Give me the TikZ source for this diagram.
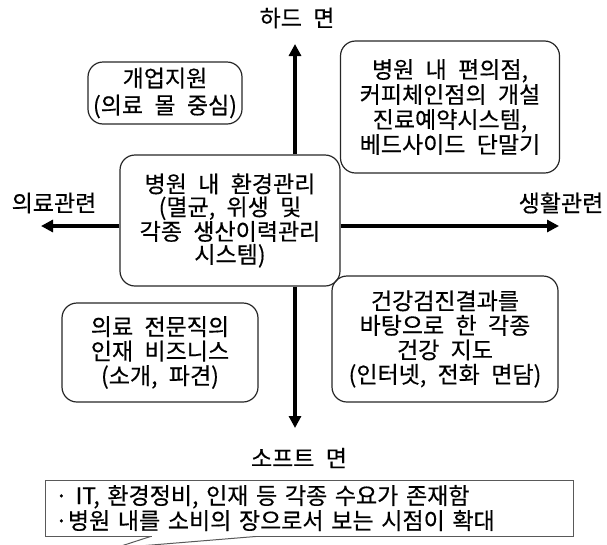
\documentclass[tikz,border=0pt]{standalone}
\usepackage{fontspec}
\setmainfont{Noto Sans CJK KR}[WordSpace=2.2, FakeBold=0.4]
\usetikzlibrary{arrows.meta,calc}
\begin{document}
\begin{tikzpicture}[x=1pt,y=-1pt,
  every node/.style={text=black},
  txt/.style={font=\fontsize{23}{25}\selectfont},
  rbox/.style={txt, draw=black!85, line width=1.2pt, rounded corners=15pt, align=center, inner sep=0pt},
  axis/.style={line width=3.8pt, black, -{Triangle[length=12pt,width=12pt]}},
  lbl/.style={txt, inner sep=0pt},
  note/.style={txt, draw=black!65, line width=1pt, inner xsep=10pt, inner ysep=0pt, align=left, text width=508pt, minimum height=56pt}]
\useasboundingbox (0,0) rectangle (607,544);

% boxes
\node[rbox, font=\fontsize{23}{27}\selectfont, minimum width=154pt, minimum height=62pt] (kaeup) at (165,93) {개업지원\\(의료 몰 중심)};
\node[rbox, minimum width=219pt, minimum height=132pt] (pyeon) at (450,107) {병원 내 편의점,\\커피체인점의 개설\\진료예약시스템,\\베드사이드 단말기};
\node[rbox, font=\fontsize{23}{23}\selectfont, minimum width=220pt, minimum height=131pt] (center) at (230,220.5) {병원 내 환경관리\\(멸균, 위생 및\\각종 생산이력관리\\시스템)};
\node[rbox, font=\fontsize{23}{24.5}\selectfont, minimum width=196pt, minimum height=99pt] (injae) at (160,352.5) {의료 전문직의\\인재 비즈니스\\(소개, 파견)};
\node[rbox, font=\fontsize{23}{24.5}\selectfont, minimum width=226pt, minimum height=126pt] (geongang) at (445,339) {건강검진결과를\\바탕으로 한 각종\\건강 지도\\(인터넷, 전화 면담)};

% axis labels
\node[lbl] (hard) at (297,18) {하드 면};
\node[lbl] (soft) at (299,458) {소프트 면};
\node[lbl] (medi) at (54,203) {의료관련};
\node[lbl] (life) at (561,203) {생활관련};

% axis end points
\coordinate (topend) at (295,44);
\coordinate (botend) at (295,428);
\coordinate (leftend) at (41,226);
\coordinate (rightend) at (559,226);

\draw[axis] (center.north -| topend) -- (topend);
\draw[axis] (center.south -| botend) -- (botend);
\draw[axis] (center.west |- leftend) -- (leftend);
\draw[axis] (center.east |- rightend) -- (rightend);

% note box with callout tail
\node[note] (notebox) at (309,508) {· IT, 환경정비, 인재 등 각종 수요가 존재함\\·병원 내를 소비의 장으로서 보는 시점이 확대};
\coordinate (tailtip) at (115,548);
\fill[white] ($(notebox.south west)+(107,-1.5)$) rectangle ($(notebox.south west)+(210,1.5)$);
\draw[black!65, line width=1pt] ($(notebox.south west)+(106,0)$) -- (tailtip) -- ($(notebox.south west)+(211,0)$);
\end{tikzpicture}
\end{document}
